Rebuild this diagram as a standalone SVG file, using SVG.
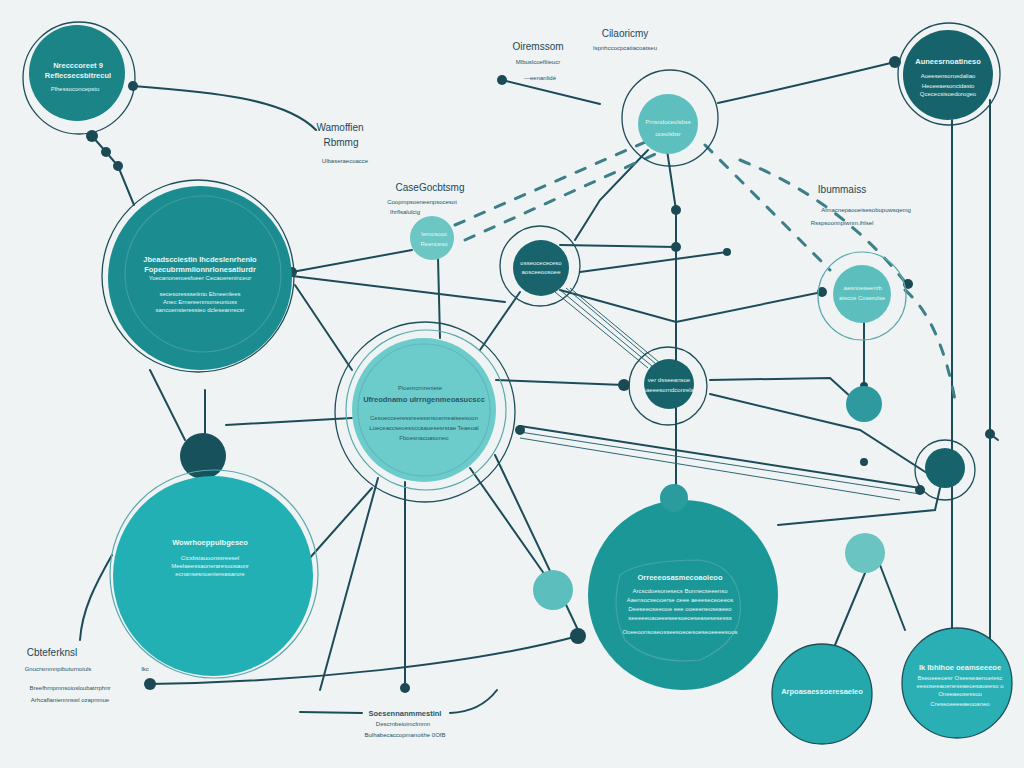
<svg xmlns="http://www.w3.org/2000/svg" width="1024" height="768" viewBox="0 0 1024 768">
<defs>
<style>
.ln{stroke:#1c4c58;stroke-width:2;fill:none;stroke-linecap:round}
.tl{stroke:#2f6672;stroke-width:1;fill:none}
.ring{stroke:#1d4e5a;stroke-width:1.3;fill:none}
.lring{stroke:#5aa9ae;stroke-width:1.2;fill:none}
.dash{stroke:#3c7f88;stroke-width:3;fill:none;stroke-dasharray:10 12;stroke-linecap:round}
.dot{fill:#1b4a55}
.wt{font-family:"Liberation Sans",Arial,sans-serif;fill:#e6f6f6;text-anchor:middle}
.ot{font-family:"Liberation Sans",Arial,sans-serif;fill:#2a5566;text-anchor:middle}
.tt{font-size:7.5px;font-weight:bold}
.st{font-size:6px}
.big{font-size:10px;fill:#1e4656}
</style>
</defs>
<rect width="1024" height="768" fill="#eff3f3"/>

<g id="connectors">
<path class="ln" d="M133,86 C210,92 285,98 316,130"/>
<path class="ln" d="M92,136 L106,152 L118,166 L134,205"/>
<path class="ln" d="M502,80 L600,104"/>
<path class="ln" d="M718,103 Q800,85 895,62"/>
<path class="ln" d="M952,120 L952,640"/>
<path class="ln" d="M990,100 L990,640"/>
<path class="ln" d="M667,150 L676,210 L676,490"/>
<path class="ln" d="M648,150 L600,200 L575,240"/>
<path class="ln" d="M292,272 L412,250"/>
<path class="ln" d="M292,276 L505,302"/>
<path class="ln" d="M295,285 L352,370"/>
<path class="ln" d="M438,258 L440,338"/>
<path class="ln" d="M580,272 L727,252"/>
<path class="ln" d="M560,245 L676,247"/>
<path class="ln" d="M560,290 L676,322 L822,292"/>
<path class="tl" d="M555,292 L648,368 M560,290 L652,366 M566,288 L656,364 M570,288 L660,363"/>
<path class="ln" d="M520,292 L480,350"/>
<path class="ln" d="M496,380 L624,385"/>
<path class="ln" d="M520,426 L920,488"/>
<path class="tl" d="M520,432 L920,494 M520,438 L900,500"/>
<path class="ln" d="M710,380 L830,378 L852,398"/>
<path class="ln" d="M710,394 L860,430 L930,475"/>
<path class="ln" d="M864,322 L864,386"/>
<path class="ln" d="M405,482 L405,688"/>
<path class="ln" d="M378,478 L320,690"/>
<path class="ln" d="M470,468 L545,575"/>
<path class="ln" d="M495,455 L578,630"/>
<path class="ln" d="M308,560 L372,488"/>
<path class="ln" d="M205,390 L205,433"/>
<path class="ln" d="M226,425 L352,418"/>
<path class="ln" d="M150,370 L185,440"/>
<path class="ln" d="M150,684 C300,682 470,665 578,636"/>
<path class="ln" d="M300,712 L362,713 M450,713 Q480,712 497,690"/>
<path class="ln" d="M112,555 C95,585 82,610 80,640"/>
<path class="ln" d="M865,573 L835,645 M880,565 L905,630"/>
<path class="ln" d="M940,488 L935,510 L778,525"/>
<path class="ln" d="M674,512 L640,535"/>
<path class="ln" d="M990,434 L998,440"/>
<path class="dash" d="M455,225 L650,140"/>
<path class="dash" d="M465,240 L660,152"/>
<path class="dash" d="M705,145 Q760,200 830,270"/>
<path class="dash" d="M740,160 Q840,200 905,282"/>
<path class="dash" d="M905,290 Q940,320 955,400"/>
<circle class="dot" cx="133" cy="86" r="5"/>
<circle class="dot" cx="92" cy="136" r="6"/>
<circle class="dot" cx="106" cy="152" r="5"/>
<circle class="dot" cx="118" cy="166" r="5"/>
<circle class="dot" cx="502" cy="80" r="5"/>
<circle class="dot" cx="895" cy="62" r="6"/>
<circle class="dot" cx="676" cy="210" r="5"/>
<circle class="dot" cx="676" cy="247" r="5"/>
<circle class="dot" cx="727" cy="252" r="4"/>
<circle class="dot" cx="822" cy="292" r="5"/>
<circle class="dot" cx="292" cy="272" r="5"/>
<circle class="dot" cx="624" cy="385" r="6"/>
<circle class="dot" cx="520" cy="430" r="5"/>
<circle class="dot" cx="920" cy="490" r="5"/>
<circle class="dot" cx="864" cy="386" r="4"/>
<circle class="dot" cx="405" cy="688" r="5"/>
<circle class="dot" cx="150" cy="684" r="6"/>
<circle class="dot" cx="578" cy="636" r="8"/>
<circle class="dot" cx="990" cy="434" r="5"/>
<circle class="dot" cx="908" cy="284" r="5"/>
<circle class="dot" cx="864" cy="462" r="4"/>
</g>

<g id="n1">
<circle cx="79" cy="78" r="56" class="ring"/>
<circle cx="77" cy="73" r="48" fill="#1a8486"/>
<text class="wt tt" x="78" y="68">Nrecccoreet 9</text>
<text class="wt tt" x="78" y="78">Reflecsecsbitrecul</text>
<text class="wt st" x="75" y="91">Plhessoconcepstu</text>
</g>
<g id="n2">
<circle cx="670" cy="118" r="48" class="ring"/>
<circle cx="668" cy="124" r="30" fill="#5dbfbe"/>
<text class="wt st" x="668" y="124">Prnsndoceolsbss</text>
<text class="wt st" x="668" y="136">oceolsbsr</text>
</g>
<g id="n3">
<circle cx="949" cy="74" r="51" class="ring"/>
<circle cx="948" cy="75" r="45" fill="#17636b"/>
<text class="wt tt" x="948" y="64">Auneesrnoatineso</text>
<text class="wt st" x="948" y="78">Aoeesensoroedaliao</text>
<text class="wt st" x="948" y="88">Heoeeaesoncidasio</text>
<text class="wt st" x="948" y="96">Qcececsisoedorogeo</text>
</g>
<g id="n4">
<circle cx="198" cy="276" r="96" class="ring"/>
<circle cx="200" cy="278" r="92" fill="#1b8c90"/>
<circle cx="203" cy="274" r="78" class="lring" opacity="0.6"/>
<text class="wt tt" x="200" y="262">Jbeadscciestin Ihcdeslenrhenlo</text>
<text class="wt tt" x="200" y="272">Fopecubrmmiionnrlonesatiurdr</text>
<text class="wt st" x="200" y="280">Yoecanoneroesfoeer  Cecaoereninceur</text>
<text class="wt st" x="200" y="296">secesoressseiinto Ebneenlees</text>
<text class="wt st" x="200" y="304">Anec Ernereenmomeonioss</text>
<text class="wt st" x="200" y="312">sancoensteressieo dcleseanrecsr</text>
</g>
<g id="n5">
<circle cx="432" cy="238" r="22" fill="#6cc6c4"/>
<text class="wt st" x="434" y="236">Ierncsooc</text>
<text class="wt st" x="434" y="246">Reenceso</text>
</g>
<g id="n6">
<circle cx="540" cy="266" r="40" class="ring"/>
<circle cx="541" cy="268" r="28" fill="#19646c"/>
<text class="wt st" x="541" y="265">osseocececeso</text>
<text class="wt st" x="541" y="274">aosceeoosoee</text>
</g>
<g id="n7">
<circle cx="862" cy="296" r="44" class="lring"/>
<circle cx="862" cy="294" r="29" fill="#5cbfbe"/>
<text class="wt st" x="862" y="290">.aesnoeseenrb</text>
<text class="wt st" x="862" y="300">aiecce Coserolse</text>
</g>
<g id="n8">
<circle cx="425" cy="412" r="90" class="ring"/>
<circle cx="426" cy="410" r="80" class="lring"/>
<circle cx="424" cy="410" r="72" fill="#6ccccb"/>
<circle cx="424" cy="410" r="66" class="lring" opacity="0.6"/>
<text class="ot st" x="420" y="390">Pioenrcrnreniete</text>
<text class="ot tt" x="424" y="402">Ufreodnamo ulrrngenmeoasucscc</text>
<text class="ot st" x="424" y="420">Cesoecceeressreesssnsoenreaiseesoon</text>
<text class="ot st" x="424" y="430">Loeceaccseoessccaaoesesrstae Teaeoal</text>
<text class="ot st" x="424" y="440">Fboesnacoasoneo</text>
</g>
<g id="n9">
<circle cx="668" cy="386" r="39" class="ring"/>
<circle cx="669" cy="384" r="25" fill="#17636b"/>
<text class="wt st" x="669" y="382">ver dsseeansoe</text>
<text class="wt st" x="669" y="392">Aaeeesorndconrelar</text>
</g>
<g id="n10">
<circle cx="864" cy="404" r="18" fill="#2e9aa0"/>
</g>
<g id="n11">
<circle cx="203" cy="456" r="23" fill="#17525c"/>
</g>
<g id="n12">
<circle cx="945" cy="470" r="30" class="ring"/>
<circle cx="945" cy="468" r="20" fill="#17636b"/>
</g>
<g id="n13">
<circle cx="214" cy="574" r="104" class="lring"/>
<circle cx="213" cy="576" r="100" fill="#22b0b5"/>
<text class="wt tt" x="210" y="545">Wowrhoeppulbgeseo</text>
<text class="wt st" x="210" y="560">Cicsbsiauoonssreesel</text>
<text class="wt st" x="210" y="568">Meelaeessaoneraresoosaonr</text>
<text class="wt st" x="210" y="576">ecnansesnoeniereasarore</text>
</g>
<g id="n14">
<circle cx="553" cy="590" r="20" fill="#5dbfbd"/>
</g>
<g id="n15">
<circle cx="865" cy="553" r="20" fill="#6ac4c2"/>
</g>
<g id="n16">
<circle cx="683" cy="595" r="95" fill="#1b9797"/>
<path class="lring" d="M620,575 Q640,560 700,560 Q735,565 740,600 Q745,640 700,660 Q650,665 625,640 Q610,610 620,575Z" opacity="0.7"/>
<text class="wt tt" x="680" y="580">Orreeeosasmecoaoieoo</text>
<text class="wt st" x="680" y="593">Arcscdoesonesecs Bonnecseeenso</text>
<text class="wt st" x="680" y="602">Aaensocseooerse ceee aeeeseceoeeos</text>
<text class="wt st" x="680" y="611">Deeseeoseeooe eee ooeeeneoseaeeo</text>
<text class="wt st" x="680" y="620">seeeeeoaoeeeseesoeoeseasesesesss</text>
<text class="wt st" x="680" y="634">Ooeeoonsoseosseesoeoesoeseoeeeesoos</text>
</g>
<g id="n17">
<circle cx="674" cy="498" r="14" fill="#2a9c9e"/>
</g>
<g id="n18">
<circle cx="822" cy="694" r="50" fill="#25a8ac"/>
<circle cx="822" cy="694" r="50" class="ring"/>
<text class="wt tt" x="822" y="694">Arpoasaessoeresaeleo</text>
</g>
<g id="n19">
<circle cx="957" cy="683" r="55" fill="#2ab0b4"/>
<circle cx="957" cy="683" r="55" class="ring"/>
<text class="wt tt" x="960" y="670">Ik Ibhihoe oeamseeeoe</text>
<text class="wt st" x="960" y="680">Bseoeeeoesr Oseeseaenoeiesc</text>
<text class="wt st" x="960" y="688">eeeoseeaoeneseaeoesaoeeso o</text>
<text class="wt st" x="960" y="696">Oneeaeosessoo</text>
<text class="wt st" x="960" y="706">Creseoeeeeaeooaneo</text>
</g>

<g id="labels">
<text class="ot big" x="340" y="131">Wamoffien</text>
<text class="ot big" x="341" y="146">Rbmmg</text>
<text class="ot st" x="345" y="163">Ulbaseraecoacce</text>
<text class="ot big" x="538" y="50">Oiremssom</text>
<text class="ot big" x="625" y="37">Cilaoricmy</text>
<text class="ot st" x="625" y="50">Ispnhccocpcatiacoatseu</text>
<text class="ot st" x="538" y="64">Mlbuslcoefliieucr</text>
<text class="ot st" x="540" y="80">—eenanlidé</text>
<text class="ot big" x="430" y="191">CaseGocbtsmg</text>
<text class="ot st" x="422" y="204">Coopmpsoeneenpsocesot</text>
<text class="ot st" x="405" y="214">Ihrflsalulcig</text>
<text class="ot big" x="842" y="193">Ibummaiss</text>
<text class="ot st" x="866" y="212">Almacnepaooeisesobupuwsqemg</text>
<text class="ot st" x="842" y="225">Rsspsoonnpiwnm.ihlsel</text>
<text class="ot big" x="52" y="656">Cbteferknsl</text>
<text class="ot st" x="58" y="671">Gnucrsmmnpibuturnoiuls</text>
<text class="ot st" x="145" y="671">Ikc</text>
<text class="ot st" x="70" y="690">Breefhrnpmnsoiosloubatrrphnr</text>
<text class="ot st" x="70" y="702">Arhcaflaniennnswl ozapnmue</text>
<text class="ot tt" x="405" y="716">Soesennanmmestinl</text>
<text class="ot st" x="403" y="726">Descrnbeioimclmmn</text>
<text class="ot st" x="405" y="737">Bulhabecaccopmanoithe 0OfB</text>
</g>
</svg>
